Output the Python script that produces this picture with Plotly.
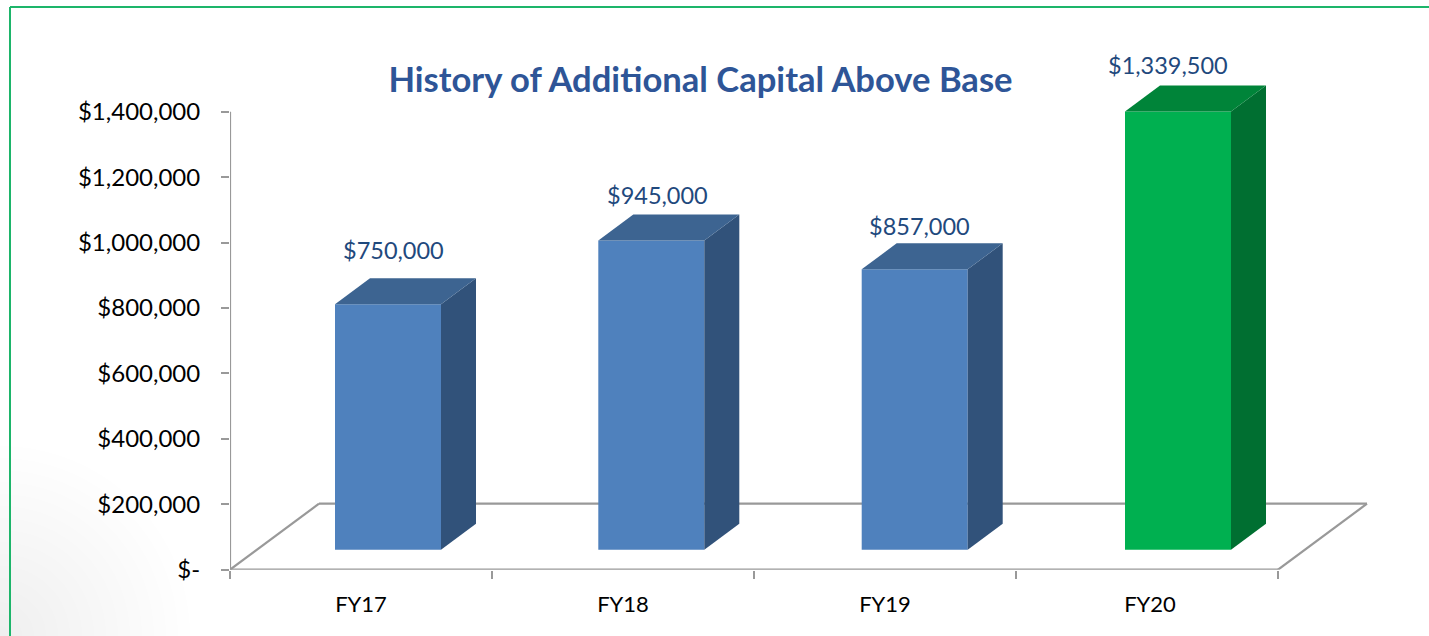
import plotly.graph_objects as go

# ---- data ----
categories = ["FY17", "FY18", "FY19", "FY20"]
values = [750000, 945000, 857000, 1339500]
value_labels = ["$750,000", "$945,000", "$857,000", "$1,339,500"]
y_ticks = [0, 200000, 400000, 600000, 800000, 1000000, 1200000, 1400000]
y_tick_labels = ["$-", "$200,000", "$400,000", "$600,000", "$800,000",
                 "$1,000,000", "$1,200,000", "$1,400,000"]
front_colors = ["#4F81BD", "#4F81BD", "#4F81BD", "#00B050"]
top_colors = ["#3D6491", "#3D6491", "#3D6491", "#008439"]
side_colors = ["#31527A", "#31527A", "#31527A", "#006F31"]

# ---- layout geometry (pixels) ----
W, H = 1429, 636
AX_LEFT, AX_BOTTOM, AX_TOP = 230, 569.7, 111.7
CAT_W = 262
PLOT_RIGHT, PLOT_TOP = 1385, 60
PX_PER_X = CAT_W
PX_PER_Y = (AX_BOTTOM - AX_TOP) / 1400000


def ux(px):
    return px / PX_PER_X


def uy(px):
    return px / PX_PER_Y


bar_shift_px = [27, 28.3, 29.7, 31]
category_label_dx = [0, 0, 0, 3]
BAR_W = ux(106)
BASE = uy(20)
DEPTH_X = ux(35)
DEPTH_Y = uy(26)
FLOOR_X = ux(89)
FLOOR_Y = uy(66)
label_dx = [5, 6, 5, -10]
label_dy = [28, 20, 17, 20]

xs = list(range(len(categories)))
x_min = -0.5
x_max = x_min + ux(PLOT_RIGHT - AX_LEFT)
y_max = uy(AX_BOTTOM - PLOT_TOP)
x_end = x_min + len(categories)
bar_x = [x + ux(s) for x, s in zip(xs, bar_shift_px)]

GRAY = "#999999"
line = dict(color=GRAY, width=2.2)

fig = go.Figure()

# front faces
fig.add_trace(go.Bar(
    x=bar_x, y=values, base=BASE, width=BAR_W,
    marker=dict(color=front_colors, line=dict(width=0)),
    showlegend=False, hoverinfo="skip"))

# side and top faces derived from the values
for i, (x, v) in enumerate(zip(bar_x, values)):
    l = x - BAR_W / 2
    r = x + BAR_W / 2
    top = BASE + v
    fig.add_trace(go.Scatter(
        x=[r, r + DEPTH_X, r + DEPTH_X, r, r],
        y=[BASE, BASE + DEPTH_Y, top + DEPTH_Y, top, BASE],
        mode="lines", fill="toself", fillcolor=side_colors[i],
        line=dict(width=0), showlegend=False, hoverinfo="skip"))
    fig.add_trace(go.Scatter(
        x=[l, r, r + DEPTH_X, l + DEPTH_X, l],
        y=[top, top, top + DEPTH_Y, top + DEPTH_Y, top],
        mode="lines", fill="toself", fillcolor=top_colors[i],
        line=dict(width=0), showlegend=False, hoverinfo="skip"))

# axis lines sit on the plot edge, so they must not be clipped
fig.add_trace(go.Scatter(
    x=[x_min, x_min, x_end], y=[y_ticks[-1], 0, 0], mode="lines", line=line,
    cliponaxis=False, showlegend=False, hoverinfo="skip"))

shapes = []

# soft grey glow in the bottom-left corner
for r in range(190, 0, -12):
    shapes.append(dict(type="circle", xref="paper", yref="paper", layer="below",
                       x0=(-r) / W, x1=r / W, y0=-r / H, y1=r / H,
                       fillcolor="rgba(120,120,120,0.007)", line=dict(width=0)))

# floor lines
shapes += [
    dict(type="line", xref="x", yref="y", layer="below", x0=x_min, x1=x_min + FLOOR_X, y0=0, y1=FLOOR_Y, line=line),
    dict(type="line", xref="x", yref="y", layer="below", x0=x_min + FLOOR_X, x1=x_end + FLOOR_X, y0=FLOOR_Y, y1=FLOOR_Y, line=line),
    dict(type="line", xref="x", yref="y", layer="below", x0=x_end, x1=x_end + FLOOR_X, y0=0, y1=FLOOR_Y, line=line),
]

# green frame of the slide
GREEN = "#1DB56A"
shapes += [
    dict(type="line", xref="paper", yref="paper", x0=10 / W, x1=10 / W, y0=0, y1=1 - 7 / H, line=dict(color=GREEN, width=2)),
    dict(type="line", xref="paper", yref="paper", x0=10 / W, x1=1, y0=1 - 7 / H, y1=1 - 7 / H, line=dict(color=GREEN, width=2)),
]

annotations = []
for i, (x, v) in enumerate(zip(bar_x, values)):
    annotations.append(dict(
        x=x, y=BASE + v + DEPTH_Y, xref="x", yref="y",
        text=value_labels[i], showarrow=False,
        xshift=label_dx[i], yshift=label_dy[i],
        xanchor="center", yanchor="middle",
        font=dict(family="Lato", size=23.5, color="#1F497D")))

fig.update_layout(
    width=W, height=H,
    margin=dict(l=0, r=0, t=0, b=0),
    paper_bgcolor="white", plot_bgcolor="rgba(0,0,0,0)",
    showlegend=False,
    font=dict(family="Lato", color="black"),
    title=dict(text="<b>History of Additional Capital Above Base</b>",
               x=700.5 / W, y=1 - 80 / H, xanchor="center", yanchor="middle",
               font=dict(family="Lato", size=34.6, color="#2E5597")),
    shapes=shapes,
    annotations=annotations,
    xaxis=dict(domain=[AX_LEFT / W, PLOT_RIGHT / W], range=[x_min, x_max],
               automargin=False,
               showgrid=False, zeroline=False, showline=False,
               tickvals=[x + ux(d) for x, d in zip(xs, category_label_dx)],
               ticktext=categories, ticks="", ticklabelstandoff=19,
               tickfont=dict(family="Lato", size=22, color="black"),
               minor=dict(tickvals=[x_min + k for k in range(len(categories) + 1)],
                          ticks="outside", ticklen=8, tickwidth=2, tickcolor=GRAY,
                          showgrid=False)),
    yaxis=dict(domain=[(H - AX_BOTTOM) / H, (H - PLOT_TOP) / H], range=[0, y_max],
               automargin=False,
               showgrid=False, zeroline=False, showline=False,
               tickvals=y_ticks, ticktext=y_tick_labels,
               ticks="outside", ticklen=8, tickwidth=2, tickcolor=GRAY,
               ticklabelstandoff=16,
               tickfont=dict(family="Lato", size=24, color="black")),
)

fig.write_html("out.html", config={"displayModeBar": False},
               post_script="document.body.style.margin='0';")
